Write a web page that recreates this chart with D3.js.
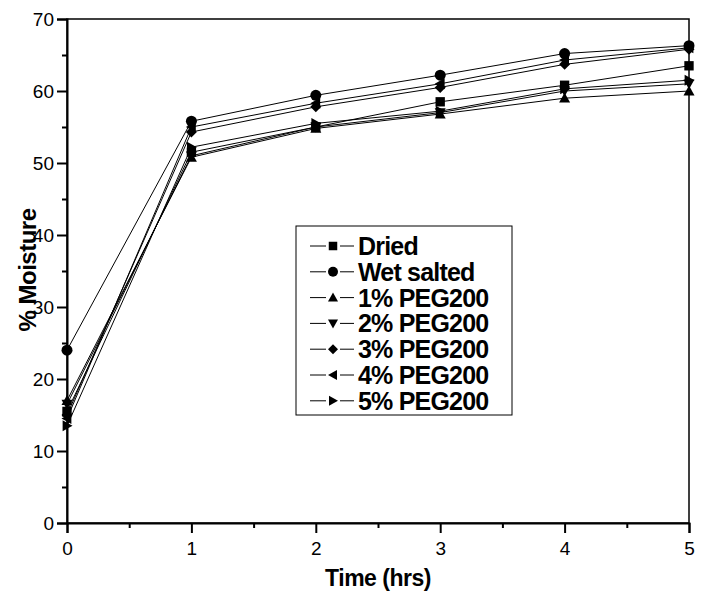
<!DOCTYPE html>
<html><head><meta charset="utf-8">
<script src="https://cdn.jsdelivr.net/npm/d3@7"></script>
<style>body{margin:0;background:#fff}svg{display:block}</style>
</head><body>
<svg id="chart" width="702" height="592"></svg>
<script>
// ---- data ----
const times = [0, 1, 2, 3, 4, 5];
const seriesNames = ["Dried", "Wet salted", "1% PEG200", "2% PEG200", "3% PEG200", "4% PEG200", "5% PEG200"];
const seriesMarkers = ["square", "circle", "triUp", "triDown", "diamond", "triLeft", "triRight"];
const dried   = [15.5, 51.5, 55.0, 58.5, 60.8, 63.5];
const wet     = [24.0, 55.8, 59.4, 62.2, 65.2, 66.3];
const peg1    = [17.0, 50.8, 54.8, 56.8, 59.0, 60.0];
const peg2    = [16.5, 51.0, 55.0, 57.0, 60.0, 61.0];
const peg3    = [15.0, 54.3, 57.8, 60.5, 63.7, 65.8];
const peg4    = [14.5, 55.0, 58.3, 61.0, 64.3, 66.0];
const peg5    = [13.5, 52.2, 55.5, 57.2, 60.3, 61.5];
const seriesValues = [dried, wet, peg1, peg2, peg3, peg4, peg5];
const xTickValues = [0, 1, 2, 3, 4, 5];
const xMinorTicks = [0.5, 1.5, 2.5, 3.5, 4.5];
const yTickValues = [0, 10, 20, 30, 40, 50, 60, 70];
const yMinorTicks = [5, 15, 25, 35, 45, 55, 65];
const xTitle = "Time (hrs)";
const yTitle = "% Moisture";

// ---- layout ----
const svg = d3.select("#chart");
const L = 67, R = 689, T = 19, B = 523;
const x = d3.scaleLinear().domain([0, 5]).range([L, R]);
const y = d3.scaleLinear().domain([0, 70]).range([B, T]);
const FONT = "Liberation Sans, Arial, Helvetica, sans-serif";

function markerPath(type, s) {
  const h = s / 2;
  switch (type) {
    case "square": return `M${-h*0.85},${-h*0.85}H${h*0.85}V${h*0.85}H${-h*0.85}Z`;
    case "circle": return d3.symbol(d3.symbolCircle, Math.PI * h * h)();
    case "triUp": return `M0,${-h}L${h},${h*0.8}L${-h},${h*0.8}Z`;
    case "triDown": return `M0,${h}L${h},${-h*0.8}L${-h},${-h*0.8}Z`;
    case "triLeft": return `M${-h},0L${h*0.8},${-h}L${h*0.8},${h}Z`;
    case "triRight": return `M${h},0L${-h*0.8},${-h}L${-h*0.8},${h}Z`;
    case "diamond": return `M0,${-h}L${h},0L0,${h}L${-h},0Z`;
  }
}

// frame
svg.append("rect").attr("x", L).attr("y", T).attr("width", R - L).attr("height", B - T)
  .attr("fill", "none").attr("stroke", "#000").attr("stroke-width", 1.5);

// axes
const xAxis = d3.axisBottom(x).tickValues(xTickValues).tickSize(10).tickFormat(d3.format("d"));
const gx = svg.append("g").attr("transform", `translate(0,${B})`).call(xAxis);
gx.select(".domain").attr("stroke-width", 2);
gx.selectAll(".tick line").attr("stroke-width", 2);
gx.selectAll(".tick text").attr("font-family", FONT).attr("font-size", 19).attr("dy", "1.0em").attr("fill", "#000");
const gxm = svg.append("g").attr("transform", `translate(0,${B})`)
  .call(d3.axisBottom(x).tickValues(xMinorTicks).tickSize(5).tickFormat(""));
gxm.select(".domain").remove();
gxm.selectAll(".tick line").attr("stroke-width", 2);

const yAxis = d3.axisLeft(y).tickValues(yTickValues).tickSize(10).tickFormat(d3.format("d"));
const gy = svg.append("g").attr("transform", `translate(${L},0)`).call(yAxis);
gy.select(".domain").attr("stroke-width", 2);
gy.selectAll(".tick line").attr("stroke-width", 2);
gy.selectAll(".tick text").attr("font-family", FONT).attr("font-size", 19).attr("x", -13).attr("fill", "#000");
const gym = svg.append("g").attr("transform", `translate(${L},0)`)
  .call(d3.axisLeft(y).tickValues(yMinorTicks).tickSize(5).tickFormat(""));
gym.select(".domain").remove();
gym.selectAll(".tick line").attr("stroke-width", 2);

// lines
const line = d3.line().x((d, i) => x(times[i])).y(d => y(d));
seriesValues.forEach(vals => {
  svg.append("path").datum(vals).attr("d", line)
    .attr("fill", "none").attr("stroke", "#000").attr("stroke-width", 1);
});
// markers
seriesValues.forEach((vals, si) => {
  svg.append("g").selectAll("path").data(vals).join("path")
    .attr("transform", (d, i) => `translate(${x(times[i])},${y(d)})`)
    .attr("d", markerPath(seriesMarkers[si], 11))
    .attr("fill", "#000");
});

// titles
svg.append("text").attr("x", 378).attr("y", 586).attr("text-anchor", "middle")
  .attr("font-family", FONT).attr("font-weight", "bold").attr("font-size", 23)
  .attr("letter-spacing", -0.5).text(xTitle);
svg.append("text").attr("transform", "translate(36,270) rotate(-90)").attr("text-anchor", "middle")
  .attr("font-family", FONT).attr("font-weight", "bold").attr("font-size", 24)
  .attr("letter-spacing", -0.5).text(yTitle);

// legend
const lg = svg.append("g");
lg.append("rect").attr("x", 296).attr("y", 226).attr("width", 216).attr("height", 189)
  .attr("fill", "#fff").attr("stroke", "#000").attr("stroke-width", 1);
seriesNames.forEach((name, i) => {
  const cy = 246 + i * 25.8;
  lg.append("line").attr("x1", 310).attr("x2", 326).attr("y1", cy).attr("y2", cy).attr("stroke", "#000").attr("stroke-width", 1);
  lg.append("line").attr("x1", 340).attr("x2", 354).attr("y1", cy).attr("y2", cy).attr("stroke", "#000").attr("stroke-width", 1);
  lg.append("path").attr("transform", `translate(333,${cy})`).attr("d", markerPath(seriesMarkers[i], 10)).attr("fill", "#000");
  lg.append("text").attr("x", 358).attr("y", cy).attr("dy", "0.36em")
    .attr("font-family", FONT).attr("font-weight", "bold").attr("font-size", 25)
    .attr("letter-spacing", -0.8).text(name);
});
</script>
</body></html>
